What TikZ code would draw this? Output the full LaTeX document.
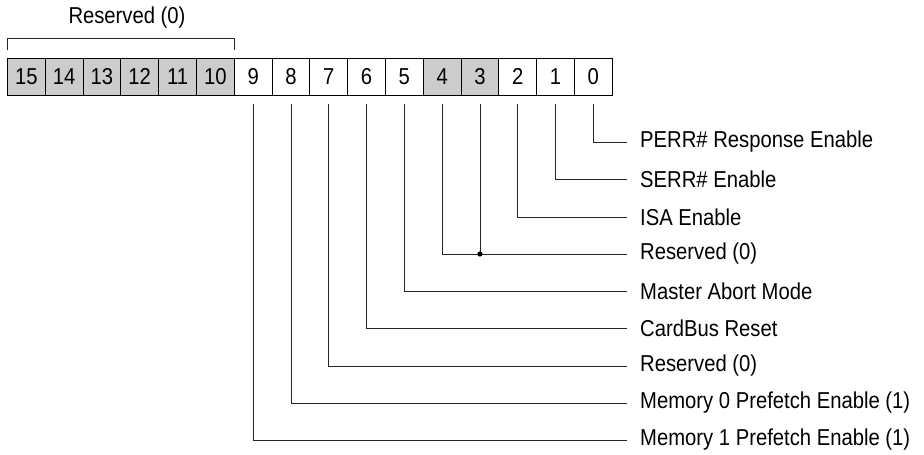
\documentclass[tikz,border=0pt]{standalone}
\usepackage{fontspec}
\setmainfont{Liberation Sans}[FakeStretch=0.88]
\begin{document}
\begin{tikzpicture}[x=1pt,y=-1pt,
  cell/.style={draw=black, line width=0.9pt, minimum width=37.8pt, minimum height=37pt, inner sep=0pt, font=\fontsize{23}{25}\selectfont, anchor=north west},
  resv/.style={cell, fill=black!20},
  lab/.style={anchor=west, inner xsep=13pt, inner ysep=0pt, font=\fontsize{23}{25}\selectfont},
  conn/.style={draw=black!85, line width=0.9pt}]
\useasboundingbox (0,0) rectangle (924,455);
% bit cells
\foreach \i in {15,14,...,0}{
  \pgfmathsetmacro{\xx}{7+(15-\i)*37.8}
  \ifnum\i>9 \node[resv] (b\i) at (\xx,58) {\i};
  \else\ifnum\i=4 \node[resv] (b\i) at (\xx,58) {\i};
  \else\ifnum\i=3 \node[resv] (b\i) at (\xx,58) {\i};
  \else \node[cell] (b\i) at (\xx,58) {\i};
  \fi\fi\fi
}
% bracket
\coordinate (brl) at ([yshift=8pt]b15.north west);
\coordinate (brr) at ([yshift=8pt]b10.north east);
\draw[conn] (brl) -- ++(0,-12) -| (brr);
\node[font=\fontsize{23}{25}\selectfont] (rtop) at (127,18) {Reserved (0)};
% labels
\node[lab] (l0) at (627,142) {PERR\# Response Enable};
\node[lab] (l1) at (627,179) {SERR\# Enable};
\node[lab] (l2) at (627,217) {ISA Enable};
\node[lab] (l3) at (627,254) {Reserved (0)};
\node[lab] (l5) at (627,291) {Master Abort Mode};
\node[lab] (l6) at (627,328) {CardBus Reset};
\node[lab] (l7) at (627,366) {Reserved (0)};
\node[lab] (l8) at (627,403) {Memory 0 Prefetch Enable (1)};
\node[lab] (l9) at (627,440) {Memory 1 Prefetch Enable (1)};
% connectors
\foreach \i/\j in {0/0,1/1,2/2,4/3,5/5,6/6,7/7,8/8,9/9}{
  \draw[conn] ([yshift=-8pt]b\i.south) |- (l\j.west);
}
\coordinate (dot) at (b3.south |- l3.west);
\draw[conn] ([yshift=-8pt]b3.south) -- (dot);
\fill (dot) circle (2.6pt);
\end{tikzpicture}
\end{document}
